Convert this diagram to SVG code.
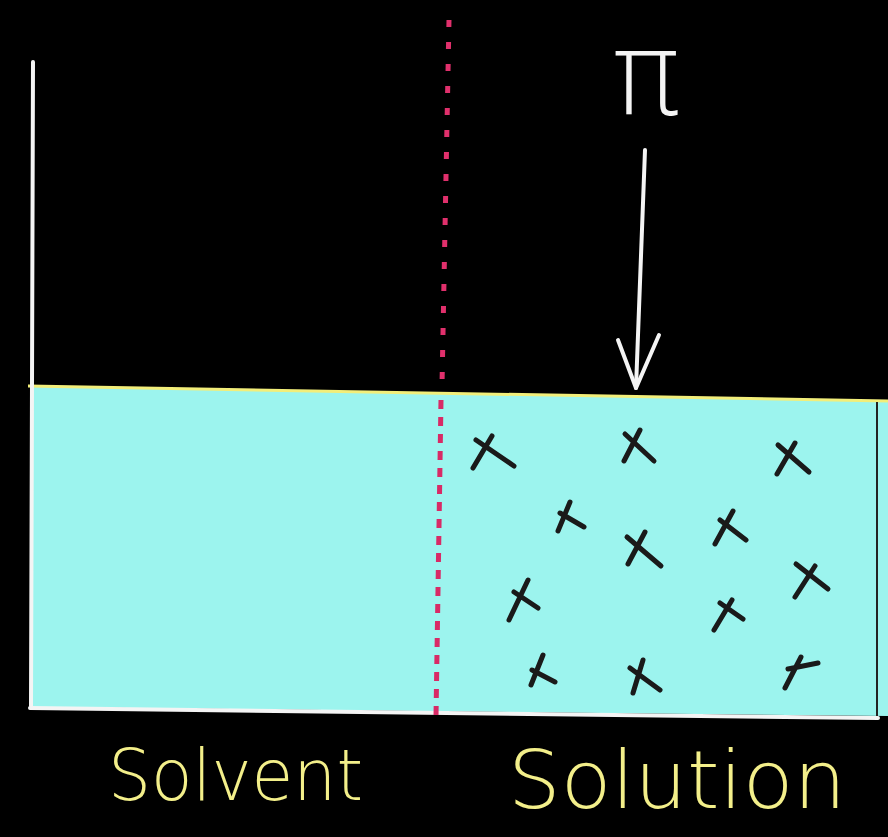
<svg xmlns="http://www.w3.org/2000/svg" width="888" height="837" viewBox="0 0 888 837">
<style>
.chalk{stroke:#f4f4f4;stroke-width:4;fill:none;stroke-linecap:round;stroke-linejoin:round}
.x{stroke:#1a1a1a;stroke-width:5;fill:none;stroke-linecap:round}
.lbl{font-family:"DejaVu Sans","Liberation Sans",sans-serif;fill:#f3ef8a;font-weight:200}
</style>
<rect width="888" height="837" fill="#000"/>
<g id="solution-body">
<polygon points="30,386 888,401 888,716 30,707" fill="#9cf4ee"/>
<line x1="28" y1="386" x2="888" y2="401" stroke="#f2ee7a" stroke-width="3"/>
<line x1="30" y1="708" x2="878" y2="718" class="chalk" stroke-width="4"/>
<line x1="877" y1="402" x2="877" y2="716" stroke="#222" stroke-width="2"/>
</g>
<g id="container-wall">
<line x1="33" y1="62" x2="31" y2="706" class="chalk"/>
</g>
<g id="membrane">
<path d="M449,20 L442,385" stroke="#e0306c" stroke-width="5" stroke-dasharray="7 15" fill="none"/>
<path d="M441,400 L436,716" stroke="#d82a66" stroke-width="5" stroke-dasharray="9 8" fill="none"/>
</g>
<g id="pi-label">
<text x="646" y="114" text-anchor="middle" font-family="DejaVu Sans, sans-serif" font-weight="200" font-size="115" fill="#f4f4f4">π</text>
</g>
<g id="connectors">
<path class="chalk" d="M645,150 L636,388"/>
<path class="chalk" d="M618,340 L636,388 L659,335"/>
</g>
<g id="solute-particles">
<path class="x" d="M473,468 L492,436 M476,440 L514,466"/>
<path class="x" d="M624,461 L640,430 M625,434 L654,461"/>
<path class="x" d="M777,474 L795,443 M778,445 L809,472"/>
<path class="x" d="M558,531 L570,502 M560,513 L584,527"/>
<path class="x" d="M715,544 L733,511 M720,520 L746,540"/>
<path class="x" d="M628,564 L645,532 M627,537 L661,566"/>
<path class="x" d="M795,597 L815,566 M796,564 L828,589"/>
<path class="x" d="M509,620 L528,580 M514,592 L538,608"/>
<path class="x" d="M714,630 L732,600 M720,603 L743,619"/>
<path class="x" d="M531,685 L543,655 M532,670 L555,682"/>
<path class="x" d="M633,693 L643,660 M630,668 L660,690"/>
<path class="x" d="M785,688 L801,657 M788,669 L818,663"/>
</g>
<g id="labels">
<text class="lbl" x="108" y="800" font-size="72" textLength="255" lengthAdjust="spacingAndGlyphs">Solvent</text>
<text class="lbl" x="508" y="808" font-size="80" textLength="338" lengthAdjust="spacingAndGlyphs">Solution</text>
</g>
</svg>
